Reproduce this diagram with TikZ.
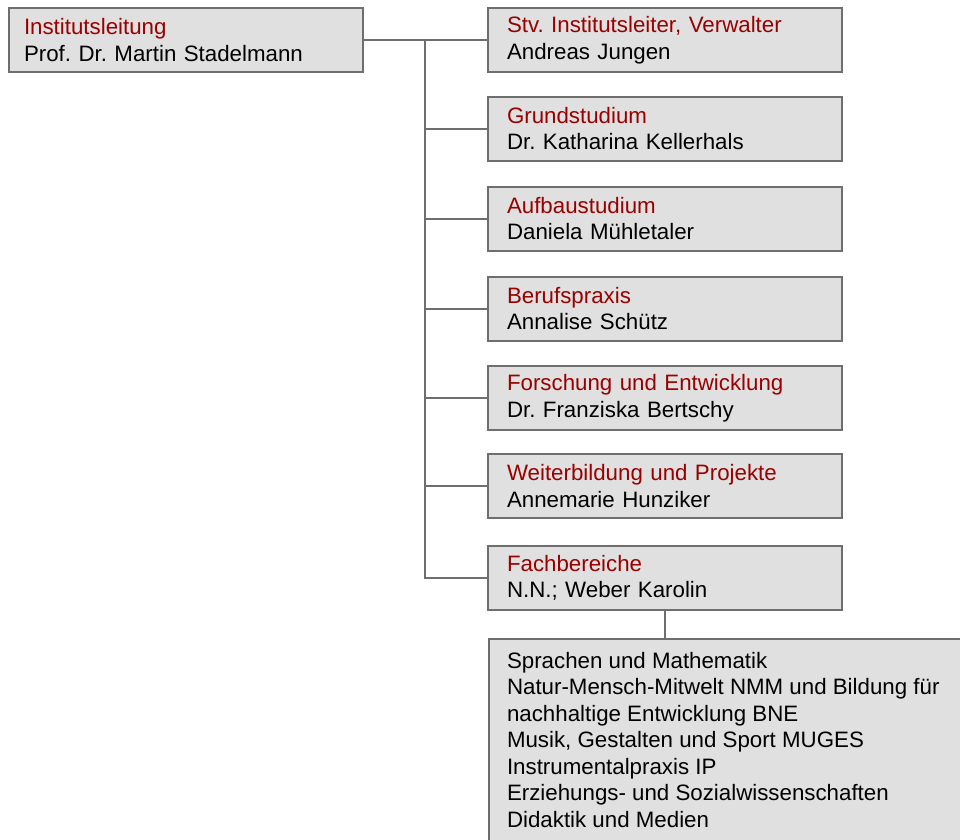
\documentclass[tikz,border=0pt]{standalone}
\usepackage{fontspec}
\setmainfont{Liberation Sans}
\usepackage{tikz}
\frenchspacing

\definecolor{boxfill}{HTML}{E0E0E0}
\definecolor{boxline}{HTML}{6E6E6E}
\definecolor{headred}{HTML}{990000}

\begin{document}
\begin{tikzpicture}[x=1pt, y=-1pt,
    box/.style={draw=boxline, fill=boxfill, line width=2pt, anchor=north west,
      font=\fontsize{22.3pt}{26.5pt}\selectfont},
    unit/.style={box, minimum width=354pt, minimum height=64pt, align=left,
      inner xsep=19pt, text width=316pt},
    link/.style={draw=boxline, line width=2pt}]
    \useasboundingbox (0,0) rectangle (960,839);

    % head of the institute
    \node[unit, inner xsep=15pt, text width=324pt] (leitung) at (8,7)
      {\textcolor{headred}{Institutsleitung}\\Prof. Dr. Martin Stadelmann};

    % units
    \node[unit] (stv) at (487,7)
      {\textcolor{headred}{Stv. Institutsleiter, Verwalter}\\Andreas Jungen};
    \node[unit] (grund) at (487,95.5)
      {\textcolor{headred}{Grundstudium}\\Dr. Katharina Kellerhals};
    \node[unit] (aufbau) at (487,185.5)
      {\textcolor{headred}{Aufbaustudium}\\Daniela Mühletaler};
    \node[unit] (praxis) at (487,275.5)
      {\textcolor{headred}{Berufspraxis}\\Annalise Schütz};
    \node[unit] (forschung) at (487,365)
      {\textcolor{headred}{Forschung und Entwicklung}\\Dr. Franziska Bertschy};
    \node[unit] (weiter) at (487,453)
      {\textcolor{headred}{Weiterbildung und Projekte}\\Annemarie Hunziker};
    \node[unit] (fach) at (487,545)
      {\textcolor{headred}{Fachbereiche}\\N.N.; Weber Karolin};

    % subject areas
    \node[box, inner xsep=18pt, inner ysep=13pt] (faecher) at (488,638)
      {\parbox[t][200pt][t]{460pt}{\raggedright
        Sprachen und Mathematik\\
        Natur-Mensch-Mitwelt NMM und Bildung für\\
        nachhaltige Entwicklung BNE\\
        Musik, Gestalten und Sport MUGES\\
        Instrumentalpraxis IP\\
        Erziehungs- und Sozialwissenschaften\\
        Didaktik und Medien}};

    % connectors
    \coordinate (spine) at (425,39);
    \draw[link] (leitung.east) -- (stv.west);
    \draw[link] (spine) |- (fach.west);
    \foreach \n in {grund,aufbau,praxis,forschung,weiter}
    \draw[link] (spine |- \n.west) -- (\n.west);
    \draw[link] (fach.south) -- (fach.south |- faecher.north);

  \end{tikzpicture}
\end{document}
